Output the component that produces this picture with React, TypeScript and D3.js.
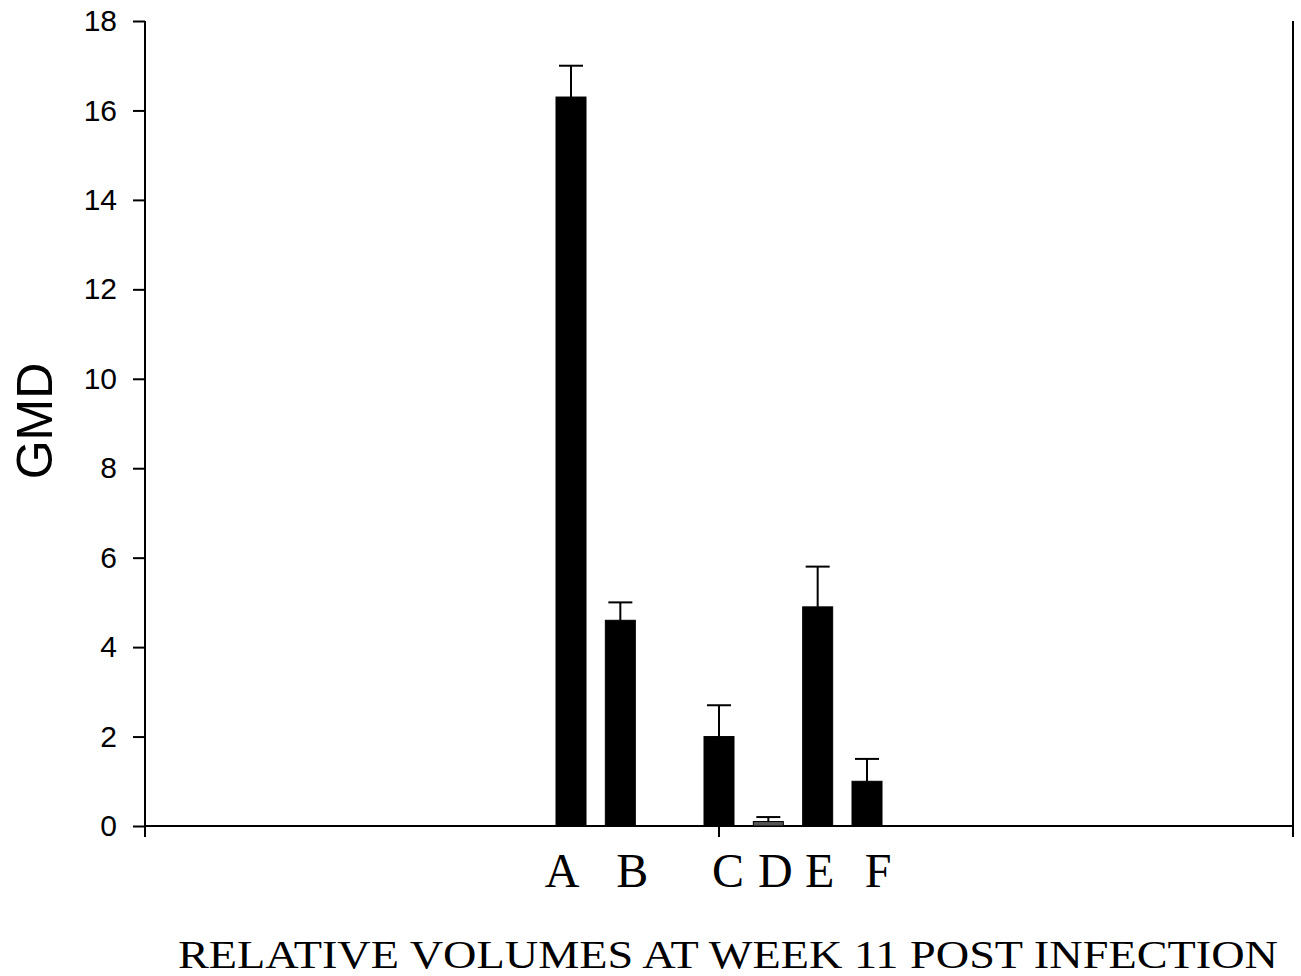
import React, { useEffect, useRef } from "react";
import * as d3 from "d3";

const categories = ["A", "B", "C", "D", "E", "F"];
const slots = [0, 1, 3, 4, 5, 6];
const values = [16.3, 4.6, 2.0, 0.1, 4.9, 1.0];
const errors = [0.7, 0.4, 0.7, 0.1, 0.9, 0.5];
const barColors = ["#000", "#000", "#000", "#555", "#000", "#000"];
const yTicks = [0, 2, 4, 6, 8, 10, 12, 14, 16, 18];
const labelOffsets = [-9, 12, 9, 7, 2, 11];
const xTitle = "RELATIVE VOLUMES AT WEEK 11 POST INFECTION";
const yTitle = "GMD";

export default function App() {
  const ref = useRef<SVGSVGElement | null>(null);
  useEffect(() => {
    const svg = d3.select(ref.current);
    svg.selectAll("*").remove();
    const left = 145, right = 1293, top = 21, bottom = 826;
    const y = d3.scaleLinear().domain([0, 18]).range([bottom, top]);
    const x = d3.scaleLinear().domain([0, 6]).range([571, 867]);
    const bw = 30;

    const g = svg.append("g");
    // y axis
    const yAxis = g.append("g").attr("transform", `translate(${left},0)`)
      .call(d3.axisLeft(y).tickValues(yTicks).tickSize(12).tickPadding(16).tickSizeOuter(0));
    yAxis.select(".domain").remove();
    yAxis.selectAll("line").attr("stroke", "#000").attr("stroke-width", 2);
    yAxis.selectAll("text").attr("font-family", "Liberation Sans, Arial, sans-serif").attr("font-size", 30).attr("fill", "#000");

    // frame lines
    g.append("line").attr("x1", left).attr("x2", left).attr("y1", top).attr("y2", bottom + 11).attr("stroke", "#000").attr("stroke-width", 2);
    g.append("line").attr("x1", right).attr("x2", right).attr("y1", top).attr("y2", bottom + 11).attr("stroke", "#000").attr("stroke-width", 2);
    g.append("line").attr("x1", left).attr("x2", right).attr("y1", bottom).attr("y2", bottom).attr("stroke", "#000").attr("stroke-width", 2);
    g.append("line").attr("x1", (left + right) / 2).attr("x2", (left + right) / 2).attr("y1", bottom).attr("y2", bottom + 11).attr("stroke", "#000").attr("stroke-width", 2);

    // error bars
    categories.forEach((c, i) => {
      const cx = x(slots[i]);
      g.append("line").attr("x1", cx).attr("x2", cx).attr("y1", y(values[i])).attr("y2", y(values[i] + errors[i])).attr("stroke", "#000").attr("stroke-width", 2);
      g.append("line").attr("x1", cx - 12).attr("x2", cx + 12).attr("y1", y(values[i] + errors[i])).attr("y2", y(values[i] + errors[i])).attr("stroke", "#000").attr("stroke-width", 2);
    });
    // bars
    g.selectAll("rect.bar").data(categories).enter().append("rect")
      .attr("x", (d, i) => x(slots[i]) - bw / 2)
      .attr("width", bw)
      .attr("y", (d, i) => y(values[i]))
      .attr("height", (d, i) => bottom - y(values[i]))
      .attr("fill", (d, i) => barColors[i])
      .attr("stroke", "#000").attr("stroke-width", 1);

    // category labels
    g.selectAll("text.cat").data(categories).enter().append("text")
      .attr("x", (d, i) => x(slots[i]) + labelOffsets[i])
      .attr("y", 887)
      .attr("text-anchor", "middle")
      .attr("font-family", "Liberation Serif, Times New Roman, serif")
      .attr("font-size", 48)
      .attr("fill", "#000")
      .text(d => d);

    // x title
    g.append("text").attr("x", 178).attr("y", 968)
      .attr("font-family", "Liberation Serif, Times New Roman, serif")
      .attr("font-size", 41)
      .attr("textLength", 1100).attr("lengthAdjust", "spacingAndGlyphs")
      .attr("fill", "#000")
      .text(xTitle);

    // y title
    g.append("text").attr("transform", "translate(52,421) rotate(-90)")
      .attr("text-anchor", "middle")
      .attr("font-family", "Liberation Sans, Arial, sans-serif")
      .attr("font-size", 50)
      .attr("fill", "#000")
      .text(yTitle);
  }, []);
  return (
    <svg ref={ref} width={1301} height={976} style={{ position: "absolute", left: 0, top: 0, background: "#fff" }} />
  );
}
